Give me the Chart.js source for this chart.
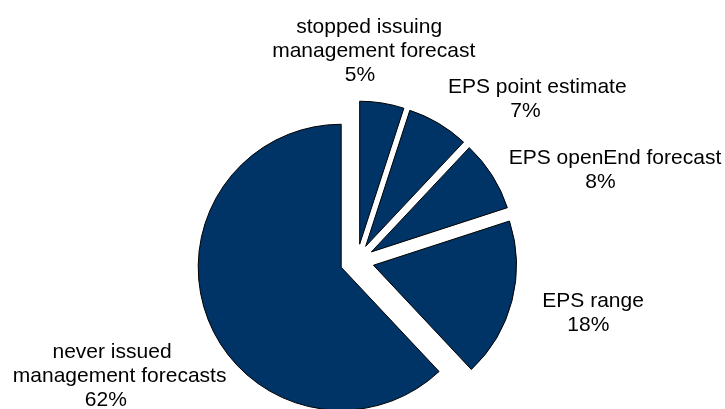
<!DOCTYPE html>
<html>
<head>
<meta charset="utf-8">
<script src="https://cdn.jsdelivr.net/npm/chart.js@4/dist/chart.umd.min.js"></script>
<style>
    html, body { margin: 0; padding: 0; background: #ffffff; }
    #wrap { width: 725px; height: 409px; position: relative; }
</style>
</head>
<body>
<div id="wrap"><canvas id="guidanceChart"></canvas></div>
<script>
// Categories, clockwise from 12 o'clock
const categories = [
    ['stopped issuing', 'management forecast'],
    ['EPS point estimate'],
    ['EPS openEnd forecast'],
    ['EPS range'],
    ['never issued', 'management forecasts']
];
// Share of firms, percent
const shares = [5, 7, 8, 18, 62];

// Where each label block sits, relative to the pie centre (x, first baseline)
const labelSpots = [
    { dx: 0.5, dy: -228 },
    { dx: 166, dy: -168 },
    { dx: 241, dy: -97 },
    { dx: 228, dy: 46 },
    { dx: -254.5, dy: 97 }
];

// Every slice is pulled out by the same distance (px)
const explode = 17;

// Chart.js offset also grows the radius, so push the slices out by hand
const pullSlices = {
    id: 'pullSlices',
    beforeDatasetsDraw(chart) {
        chart.getDatasetMeta(0).data.forEach(function(arc) {
            if (arc._pulled) return;
            const baseDraw = arc.draw;
            arc.draw = function(ctx, area) {
                const half = (this.startAngle + this.endAngle) / 2;
                ctx.save();
                ctx.translate(Math.cos(half) * explode, Math.sin(half) * explode);
                baseDraw.call(this, ctx, area);
                ctx.restore();
            };
            arc._pulled = true;
        });
    }
};

const sliceLabels = {
    id: 'sliceLabels',
    afterDatasetsDraw(chart) {
        const ctx = chart.ctx;
        const meta = chart.getDatasetMeta(0);
        const labels = chart.data.labels;
        const values = chart.data.datasets[0].data;
        ctx.save();
        ctx.font = '21px "Liberation Sans", Arial, sans-serif';
        ctx.fillStyle = '#000000';
        ctx.textAlign = 'left';
        ctx.textBaseline = 'alphabetic';
        meta.data.forEach(function(arc, i) {
            const spot = labelSpots[i];
            const lines = labels[i].concat([values[i] + '%']);
            const cx = arc.x + spot.dx;
            lines.forEach(function(line, j) {
                const w = ctx.measureText(line).width;
                ctx.fillText(line, cx - 0.42 * w, arc.y + spot.dy + j * 24);
            });
        });
        ctx.restore();
    }
};

new Chart(document.getElementById('guidanceChart'), {
    type: 'pie',
    data: {
        labels: categories,
        datasets: [{
            data: shares,
            backgroundColor: '#003366',
            borderColor: '#000000',
            borderWidth: 1,
            offset: 0,
            hoverOffset: 0
        }]
    },
    options: {
        responsive: true,
        maintainAspectRatio: false,
        animation: false,
        radius: 143,
        layout: { padding: { top: 113, bottom: 0, left: 0, right: 11 } },
        plugins: {
            legend: { display: false },
            title: { display: false },
            tooltip: { enabled: false }
        }
    },
    plugins: [pullSlices, sliceLabels]
});
</script>
</body>
</html>
